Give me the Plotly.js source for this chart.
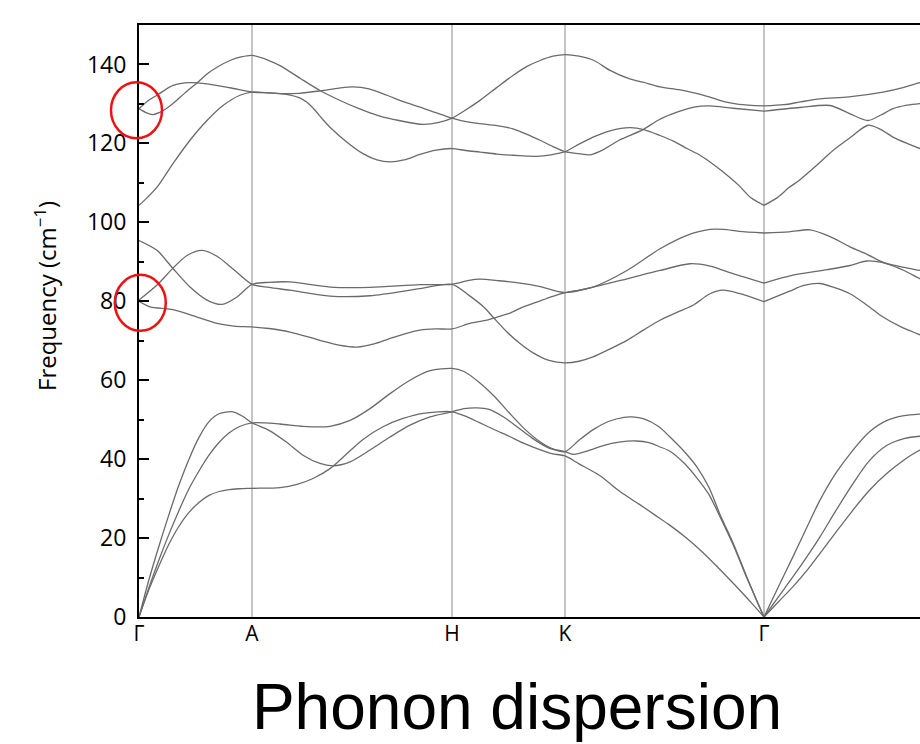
<!DOCTYPE html>
<html><head><meta charset="utf-8">
<script src="https://cdn.plot.ly/plotly-3.0.1.min.js"></script>
<style>html,body{margin:0;padding:0;overflow:hidden;background:#fff}#chart{width:940px;height:744px}</style>
</head><body><div id="chart"></div>
<script>
// high-symmetry path (distance along path) and labels
const symPos = [0, 113, 313, 426, 625];
const symLabels = ['Γ', 'A', 'H', 'K', 'Γ'];
const yTicks = [0, 20, 40, 60, 80, 100, 120, 140];
const yTitle = 'Frequency (cm<sup>−1</sup>)';
const chartTitle = 'Phonon dispersion';

// acoustic branches
const ac1Q = [0,10,20,30,40,50,60,70,80,94,104,113, 130,147,164,181,194,211,231,251,271,291,313, 325,338,350,365,380,395,410,426, 435,450,465,480,497,510,520,531,545,558,570,581,595,608,618,625, 640,654,668,681,697,714,730,748,765,781,800];
const ac1F = [0,9.5,18,26,33.5,40,45.5,49.5,51.5,52,50.8,49.2, 47.3,44.4,41,38.9,38.3,39.3,42.3,45.6,48.6,50.7,52, 52.8,53,52.6,50.6,47.8,45,42.8,41.9, 41.2,42.2,43.5,44.3,44.6,44.2,43.2,42,39,35.2,31,25.4,17.8,9.8,4,0, 5.3,10.2,15.3,20.3,27,33.8,39.5,43.5,45.2,45.8,46];

const ac2Q = [0,10,20,30,40,50,60,70,80,90,100,113, 141,164,191,211,231,251,271,291,313, 325,340,355,370,385,400,413,426, 440,455,470,485,493,505,520,531,545,558,570,581,595,608,618,625, 640,654,668,681,697,714,730,748,765,781,800];
const ac2F = [0,7.5,14.5,21,27,32.5,37,41,44.2,46.6,48.2,49.2, 48.9,48.3,48.3,49.8,52.8,56.6,60,62.4,63, 62.2,59.5,56,51.8,47.8,44.6,42.7,41.9, 44.8,47.6,49.6,50.6,50.7,50.2,48.2,45.6,42,38,32.8,26,18.2,10,4,0, 8,15.3,22.8,29.6,36.5,42.3,46.8,49.8,51,51.4,51.6];

const ac3Q = [0,10,20,30,40,50,60,70,80,90,100,113, 141,158,174,191,208,224,244,264,284,313, 325,340,355,370,385,400,413,426, 440,461,481,500,515,530,548,562,578,594,608,618,625, 640,654,668,681,697,714,730,748,765,781,800];
const ac3F = [0,7,13,18.5,23,26.5,29,30.8,31.8,32.3,32.5,32.6, 32.8,33.6,35.1,37.6,41.4,45,48.2,50.3,51.6,52, 51,49.3,47.5,45.8,44,42.5,41.4,40.8, 38.8,35.8,31.8,28.6,26,23.4,19.9,16.8,12.8,8.6,4.8,2,0, 4,7.7,11.8,16.1,21.5,27.1,32,36.4,39.8,42.3,44];

// middle optical branches
const mid1Q = [0,18,34,51,68,83,98,113, 130,151,191,231,281,313, 330,341,360,381,400,426, 454,488,521,551,571,594,625, 654,688,710,728,748,765,781,800];
const mid1F = [95.4,92.9,88.3,83.6,80.3,79.2,81.1,84.3, 84.8,84.9,83.6,83.5,84.2,84.3, 85.3,85.6,85.2,84.6,83.8,82.2, 83.6,85.7,87.8,89.5,88.9,87,84.6, 86.6,88,89,90.2,89.5,87.8,85.7,83.5];

const mid2Q = [0,18,34,48,63,78,94,113, 130,151,191,231,281,313, 330,345,354,368,381,395,410,426, 440,454,470,488,505,521,538,554,571,584,600,625, 650,665,681,695,711,728,744,762,781,800];
const mid2F = [80.3,84.1,88.4,91.6,92.9,91.4,88.2,84.3, 83.5,82.8,81.3,81.4,83.2,84.3, 81.5,78.5,76,72.2,69.3,66.8,65,64.4, 64.8,65.9,67.8,70.1,72.8,75.2,77.2,79,81.9,82.8,82,79.9, 82.5,84,84.5,83.5,81.9,79,76,73.5,71.5,69.5];

const mid3Q = [0,11,34,58,78,95,113, 130,151,181,200,218,235,250,265,281,297,313, 331,348,358,371,381,400,413,426, 454,488,521,548,571,585,600,625, 650,671,690,711,728,745,765,781,800];
const mid3F = [80,78.6,77.9,76,74.4,73.7,73.5, 73.1,72.2,70.1,68.9,68.4,69.2,70.5,71.7,72.7,73,73, 74.4,75.2,76,77,78.2,80,81.2,82.2, 83.6,87.8,93.3,96.7,98.2,98.2,97.7,97.3, 97.6,98.1,96.5,93.8,91.9,89.8,88.6,87.8,86.8];

// upper optical branches
const top1Q = [0,7,14,24,34,46,58,68,78,91,102,113, 130,141,161,181,200,220,240,260,284,300,313, 325,341,358,374,388,401,414,426, 440,455,471,490,504,521,540,555,571,585,600,625, 645,661,681,710,744,765,781,800];
const top1F = [128.8,127.8,127.3,128.3,130.1,132.8,135.3,137.6,139.3,141,141.9,142.3, 141,139.7,136.5,133.4,131,128.8,127,125.8,124.8,125.3,126.4, 128.2,130.9,134.2,137.2,139.5,141,142.1,142.5, 142.1,141,138.5,136.4,135.5,134.3,133.6,132.8,131.7,130.6,129.9,129.5, 129.8,130.5,131.3,131.8,133,134.2,135.4,136.5];

const top2Q = [0,10,18,34,51,68,91,113, 130,141,160,181,200,214,230,248,265,281,297,313, 327,341,358,374,388,401,414,426, 440,451,465,480,504,520,538,555,571,594,625, 661,691,711,729,742,754,768,781,800];
const top2F = [128.8,131,132.2,134.7,135.4,135.1,134.1,133, 132.8,132.6,132.7,133.3,134,134.3,133.8,132.2,130.5,129.2,127.8,126.4, 125.5,125,124.5,123.7,122.3,120.8,119.2,117.9, 117.4,117.1,118.5,120.8,123.5,126,127.9,129.2,129.5,128.9,128.2, 129.1,129.6,127.5,125.8,127.2,128.8,129.7,130.1,130.4];

const top3Q = [0,8,18,34,51,68,84,101,113, 130,141,150,160,168,176,184,191,208,224,238,251,265,281,297,313, 327,341,358,374,388,398,412,426, 440,454,471,491,505,521,535,548,561,571,583,600,612,625, 638,650,661,678,694,712,729,742,754,768,781,800];
const top3F = [104.3,106.2,108.9,114.9,120.8,125.8,129.6,132.2,133, 132.8,132.6,132.3,131.6,130.4,128.4,126,124.1,120.3,117.4,115.8,115.3,115.8,117.2,118.3,118.7, 118.2,117.8,117.3,117,116.8,116.7,117.1,117.9, 119.8,121.6,123.2,124,123.5,122,120.5,118.7,117,115.3,113,109.3,106.2,104.3, 106.2,108.8,110.8,114.5,118.2,121.6,124.6,123.5,121.6,120,118.7,117];

// highlighted degeneracies (red rings)
const ringQ = [-2.5, 1.3];
const ringF = [128.4, 79.6];

const bands = [[ac1Q,ac1F],[ac2Q,ac2F],[ac3Q,ac3F],[mid1Q,mid1F],[mid2Q,mid2F],[mid3Q,mid3F],[top1Q,top1F],[top2Q,top2F],[top3Q,top3F]];

const FONT = '"Open Sans", "DejaVu Sans", Arial, sans-serif';
const xMax = 801, yMax = 150;
const plotW = 801, plotH = 592, marginL = 139, marginT = 25;

const traces = [];
bands.forEach(([q, f]) => {
  const split = q.indexOf(symPos[4]);
  [[0, split + 1], [split, q.length]].forEach(([a, b]) => {
    traces.push({
      x: q.slice(a, b), y: f.slice(a, b), type: 'scatter', mode: 'lines',
      line: {color: '#6a6a6a', width: 1.3, shape: 'spline', smoothing: 0.8},
      hoverinfo: 'skip', showlegend: false
    });
  });
});

const shapes = ringQ.map((q, i) => {
  const cx = q / xMax, cy = ringF[i] / yMax;
  const rx = 25.5 / plotW, ry = 28 / plotH;
  return {type: 'circle', xref: 'paper', yref: 'paper',
    x0: cx - rx, x1: cx + rx, y0: cy - ry, y1: cy + ry,
    line: {color: '#ee1111', width: 2.5}, layer: 'above'};
});

const minorVals = [];
for (let v = 10; v < yMax; v += 20) minorVals.push(v);

const layout = {
  width: 940, height: 744,
  margin: {l: marginL, r: 0, t: marginT, b: 127},
  paper_bgcolor: '#fff', plot_bgcolor: '#fff',
  font: {family: FONT, color: '#000'},
  title: {text: chartTitle, font: {size: 64, family: 'Arial, "Liberation Sans", sans-serif', color: '#000'},
    xref: 'container', yref: 'container', x: 517/940, xanchor: 'center', y: 0.05, yanchor: 'middle'},
  xaxis: {range: [0, xMax], tickmode: 'array', tickvals: symPos, ticktext: symLabels,
    showgrid: true, gridcolor: '#c4c4c4', gridwidth: 1.5, zeroline: false,
    showline: true, linecolor: '#000', linewidth: 2, mirror: true, ticks: '',
    tickfont: {size: 21, family: FONT}, ticklabelstandoff: -3, fixedrange: true},
  yaxis: {range: [0, yMax], tickmode: 'array', tickvals: yTicks,
    ticks: 'inside', ticklen: 10, tickwidth: 2, tickcolor: '#000',
    minor: {tickmode: 'array', tickvals: minorVals, ticks: 'inside', ticklen: 5, tickwidth: 2, tickcolor: '#000'},
    showgrid: false, zeroline: false, showline: true, linecolor: '#000', linewidth: 2,
    tickfont: {size: 23, family: FONT}, ticklabelstandoff: 6,
    fixedrange: true},
  annotations: [{text: yTitle, textangle: -90, xref: 'paper', yref: 'paper',
    x: (45 - marginL) / plotW, y: (marginT + plotH - 296) / plotH, xanchor: 'center', yanchor: 'middle',
    showarrow: false, font: {size: 24, family: FONT, color: '#000'}}],
  shapes: shapes
};

Plotly.newPlot('chart', traces, layout, {staticPlot: true, displayModeBar: false});
</script></body></html>
